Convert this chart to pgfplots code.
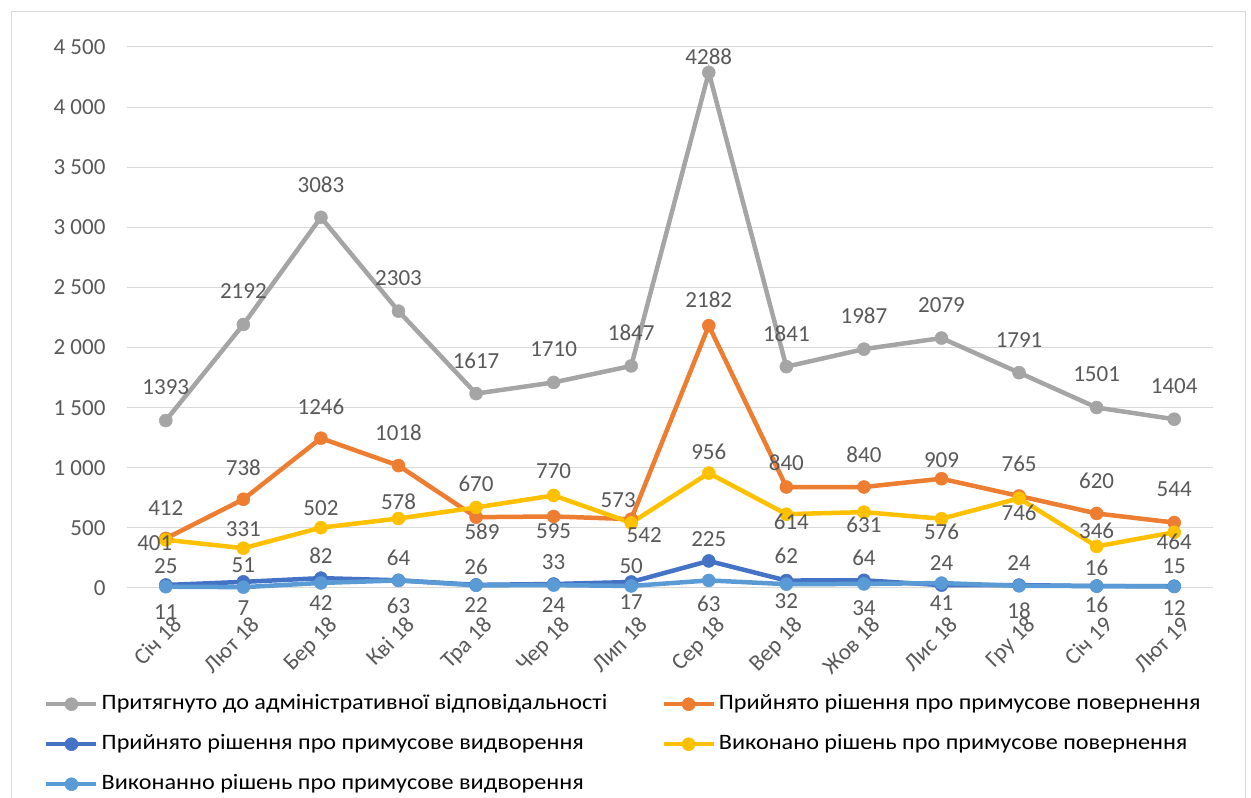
\documentclass[border=0pt]{standalone}
\usepackage{fontspec}
\setmainfont{Carlito}
\newfontfamily\legff[FakeStretch=1.1]{Carlito}
\usepackage{pgfplots}
\pgfplotsset{compat=1.18}
\usepackage{pgfplotstable}
\definecolor{cgray}{HTML}{A5A5A5}
\definecolor{corange}{HTML}{ED7D31}
\definecolor{cblue}{HTML}{4472C4}
\definecolor{cyellow}{HTML}{FFC000}
\definecolor{clblue}{HTML}{5B9BD5}
\definecolor{ctext}{HTML}{595959}
\definecolor{cgrid}{HTML}{D9D9D9}
\newcommand\lblfont{\fontsize{23}{27}\selectfont}
\newcommand\legfont{\legff\fontsize{22}{26}\selectfont}

% Притягнуто до адміністративної відповідальності
\pgfplotstableread{
x y dy dx
0 1393 33 0
1 2192 33 0
2 3083 33 0
3 2303 33 0
4 1617 33 0
5 1710 33 0
6 1847 33 0
7 4288 16 0
8 1841 33 0
9 1987 33 0
10 2079 33 0
11 1791 33 0
12 1501 33 0
13 1404 33 0
}\tgray
% Прийнято рішення про примусове повернення
\pgfplotstableread{
x y dy dx
0 412 30 0
1 738 32 0
2 1246 31 0
3 1018 33 0
4 589 -15 6
5 595 -15 0
6 573 19 -13
7 2182 26 0
8 840 24 0
9 840 32 0
10 909 19 0
11 765 32 0
12 620 33 0
13 544 33 0
}\torange
% Прийнято рішення про примусове видворення
\pgfplotstableread{
x y dy dx
0 25 19 0
1 51 17 0
2 82 22 0
3 64 22 0
4 26 18 0
5 33 22 0
6 50 16 0
7 225 22 0
8 62 25 0
9 64 22 0
10 24 22 0
11 24 22 0
12 16 18 0
13 15 20 0
}\tblue
% Виконано рішень про примусове повернення
\pgfplotstableread{
x y dy dx
0 401 -3 -11
1 331 19 0
2 502 20 0
3 578 17 0
4 670 24 0
5 770 24 0
6 542 -12 13
7 956 21 0
8 614 -8 5
9 631 -13 0
10 576 -13 0
11 746 -15 0
12 346 16 0
13 464 -10 0
}\tyellow
% Виконанно рішень про примусове видворення
\pgfplotstableread{
x y dy dx
0 11 -25 0
1 7 -21 0
2 42 -20 0
3 63 -25 0
4 22 -20 0
5 24 -20 0
6 17 -16 0
7 63 -23 0
8 32 -17 0
9 34 -24 0
10 41 -20 0
11 18 -25 0
12 16 -19 0
13 12 -21 0
}\tlblue

\pgfplotsset{
  look/.style={color=#1, line width=4.5pt, mark=*, mark size=6.5pt,
    mark options={solid, draw=#1, fill=#1, line width=0.5pt}},
  ser/.style={
    look=#1, forget plot,
    nodes near coords, point meta=explicit symbolic,
    visualization depends on={\thisrow{dy}\as\dy},
    visualization depends on={\thisrow{dx}\as\dx},
    every node near coord/.append style={font=\lblfont, text=ctext,
      anchor=center, inner sep=0pt, xshift=\dx pt, yshift=\dy pt}
  }
}

\begin{document}
\begin{tikzpicture}
\useasboundingbox (0,0) rectangle (1251pt,798pt);
\draw[cgrid, line width=1pt] (11pt,-10pt) -- (11pt,786pt) -- (1245pt,786pt) -- (1245pt,-10pt);
\begin{axis}[
  at={(127pt,210pt)}, anchor=south west,
  scale only axis, width=1086pt, height=541pt,
  clip=false,
  xmin=-0.5, xmax=13.5, ymin=0, ymax=4500,
  xtick={0,...,13},
  xticklabels={Січ 18, Лют 18, Бер 18, Кві 18, Тра 18, Чер 18, Лип 18, Сер 18, Вер 18, Жов 18, Лис 18, Гру 18, Січ 19, Лют 19},
  ytick={0,500,...,4500},
  ymajorgrids, grid style={cgrid, line width=1pt},
  axis line style={draw=none},
  major tick length=0pt,
  /pgf/number format/assume math mode=true,
  /pgf/number format/1000 sep={\ },
  ticklabel style={font=\lblfont, text=ctext},
  yticklabel style={anchor=east, xshift=-18pt},
  xticklabel style={xshift=6pt, yshift=-27pt, rotate=45, anchor=north east, inner sep=0pt},
  legend columns=2,
  legend cell align=left,
  legend style={at={(axis description cs:-0.0764,-0.1895)}, anchor=north west,
    draw=none, fill=none, font=\legfont, inner sep=0pt, column sep=0pt, row sep=13pt,
    nodes={inner sep=3pt, text height=16pt, text depth=5pt},
    /tikz/every even column/.append style={column sep=51pt}},
  legend image code/.code={\draw[mark repeat=2,mark phase=2,#1] plot coordinates {(0pt,0pt) (25pt,0pt) (50pt,0pt)};},
]
\addlegendimage{look=cgray}
\addlegendentry{Притягнуто до адміністративної відповідальності}
\addlegendimage{look=corange}
\addlegendentry{Прийнято рішення про примусове повернення}
\addlegendimage{look=cblue}
\addlegendentry{Прийнято рішення про примусове видворення}
\addlegendimage{look=cyellow}
\addlegendentry{Виконано рішень про примусове повернення}
\addlegendimage{look=clblue}
\addlegendentry{Виконанно рішень про примусове видворення}
\addplot[ser=cgray] table[x=x, y=y, meta=y] {\tgray};
\addplot[ser=corange] table[x=x, y=y, meta=y] {\torange};
\addplot[ser=cblue] table[x=x, y=y, meta=y] {\tblue};
\addplot[ser=cyellow] table[x=x, y=y, meta=y] {\tyellow};
\addplot[ser=clblue] table[x=x, y=y, meta=y] {\tlblue};
\end{axis}
\end{tikzpicture}
\end{document}
